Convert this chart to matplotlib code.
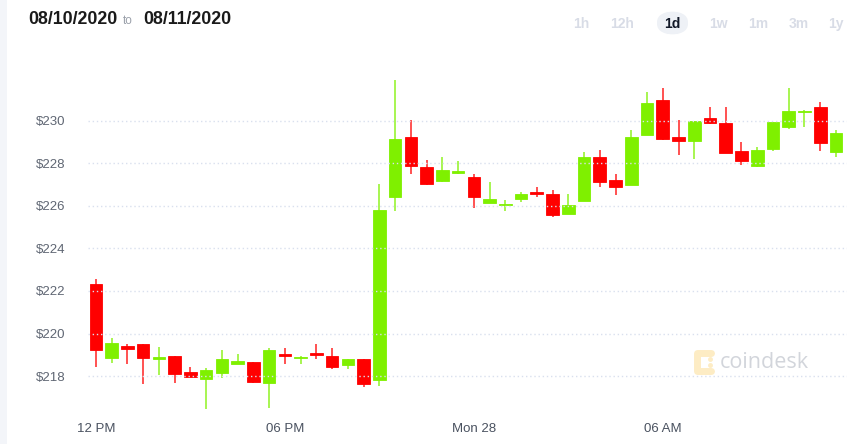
#!/usr/bin/env python3
# Свечной график в стиле coindesk, 30-минутные свечи за сутки
import numpy as np
import pandas as pd
import matplotlib
matplotlib.use("Agg")
import matplotlib.pyplot as plt
import matplotlib.dates as mdates
from matplotlib.patches import FancyBboxPatch, Rectangle

plt.rcParams["font.family"] = ["Liberation Sans", "DejaVu Sans"]

# --- данные ---
start_time = "2020-09-27 12:00"
opens = [222.35, 218.86, 219.41, 219.53, 218.81, 218.95, 218.19, 217.86, 218.16, 218.58,
         218.67, 217.67, 219.03, 218.86, 219.08, 218.95, 218.53, 218.78, 217.80, 226.42,
         229.23, 227.84, 227.16, 227.55, 227.34, 226.14, 226.05, 226.32, 226.64, 226.54,
         225.60, 226.24, 228.32, 227.21, 227.00, 229.34, 231.00, 229.25, 229.03, 230.11,
         229.92, 228.57, 227.90, 228.68, 229.70, 230.40, 230.63, 228.53]
closes = [219.22, 219.56, 219.25, 218.86, 218.92, 218.11, 217.94, 218.27, 218.80, 218.69,
          217.72, 219.22, 218.95, 218.89, 218.98, 218.44, 218.78, 217.64, 225.80, 229.14,
          227.88, 227.05, 227.67, 227.63, 226.41, 226.33, 226.11, 226.55, 226.56, 225.58,
          226.02, 228.29, 227.13, 226.87, 229.25, 230.82, 229.15, 229.06, 230.00, 229.88,
          228.47, 228.12, 228.61, 229.94, 230.44, 230.46, 228.95, 229.41]
highs = [222.55, 219.78, 219.53, 219.53, 219.37, 218.95, 218.44, 218.37, 219.22, 219.03,
         218.67, 219.33, 219.33, 218.94, 219.50, 219.31, 218.78, 218.78, 227.03, 231.92,
         230.03, 228.16, 228.28, 228.09, 227.51, 227.12, 226.30, 226.64, 226.87, 226.73,
         226.55, 228.53, 228.65, 227.48, 229.56, 231.35, 231.54, 230.02, 230.00, 230.63,
         230.63, 229.00, 228.75, 229.94, 231.54, 230.50, 230.88, 229.56]
lows = [218.41, 218.60, 218.58, 217.61, 218.05, 217.69, 217.94, 216.44, 217.92, 218.58,
        217.69, 216.51, 218.56, 218.56, 218.81, 218.33, 218.33, 217.47, 217.53, 225.76,
        227.51, 227.00, 227.13, 227.48, 225.88, 226.14, 225.78, 226.19, 226.42, 225.47,
        225.60, 226.24, 226.87, 226.50, 227.00, 229.34, 229.12, 228.40, 228.20, 229.83,
        228.47, 227.93, 227.81, 228.56, 229.62, 229.72, 228.57, 228.32]

y_ticks = [218, 220, 222, 224, 226, 228, 230]
x_tick_times = ["2020-09-27 12:00", "2020-09-27 18:00", "2020-09-28 00:00", "2020-09-28 06:00"]
x_tick_labels = ["12 PM", "06 PM", "Mon 28", "06 AM"]
ranges = ["1h", "12h", "1d", "1w", "1m", "3m", "1y"]
active_range = "1d"

UP = "#7ff000"
DOWN = "#ff0000"


def main():
    times = pd.date_range(start_time, periods=len(opens), freq="30min")
    t = mdates.date2num(times)
    o = np.array(opens)
    c = np.array(closes)
    h = np.array(highs)
    lo = np.array(lows)
    colors = [UP if cc >= oo else DOWN for oo, cc in zip(o, c)]

    fig = plt.figure(figsize=(8.67, 4.44), dpi=100)
    ax = fig.add_axes([88 / 867, 1 - 415 / 444, (847 - 88) / 867, (415 - 60) / 444])

    # фитили
    ax.vlines(t, lo, h, colors=colors, linewidth=1.2, alpha=0.8, zorder=2)
    # тела свечей
    width = 0.8 / 48
    bottoms = np.minimum(o, c)
    heights = np.maximum(np.abs(c - o), 0.06)
    ax.bar(t, heights, bottom=bottoms, width=width, color=colors,
           edgecolor=colors, linewidth=0.6, zorder=3)

    # пунктирная сетка поверх свечей
    for yv in y_ticks:
        ax.axhline(yv, color="#d9e0ee", linewidth=1.0, linestyle=(0, (1, 2)), zorder=4)

    ax.set_ylim(216.17, 232.86)
    ax.set_xlim(mdates.date2num(times[0] - pd.Timedelta(minutes=15)),
                mdates.date2num(times[-1] + pd.Timedelta(minutes=21)))

    ax.set_yticks(y_ticks)
    ax.set_yticklabels([f"${v}" for v in y_ticks], fontsize=9.5, color="#5f6673")
    ax.set_xticks(mdates.date2num(pd.to_datetime(x_tick_times)))
    ax.set_xticklabels(x_tick_labels, fontsize=9.5, color="#4a5260")
    ax.tick_params(axis="y", length=0, pad=16)
    ax.tick_params(axis="x", length=0, pad=6)
    for sp in ax.spines.values():
        sp.set_visible(False)

    # водяной знак
    fig.text(720 / 867, 1 - 362 / 444, "coindesk", fontsize=15.5, color="#d2d5db",
             family=["Open Sans", "DejaVu Sans"], va="center", ha="left")
    logo_x = [711 / 867, 697 / 867, 697 / 867, 711 / 867]
    logo_y = [1 - 353 / 444, 1 - 353 / 444, 1 - 371 / 444, 1 - 371 / 444]
    fig.add_artist(plt.Line2D(logo_x, logo_y, color="#fdecc4", linewidth=5,
                              solid_capstyle="round", solid_joinstyle="round"))
    for yy in (359, 365):
        fig.add_artist(plt.Line2D([710 / 867], [1 - yy / 444], marker="o", markersize=2.5,
                                  color="#fdecc4", linestyle="none"))

    # левая серая полоса
    fig.add_artist(Rectangle((0, 0), 7 / 867, 1, transform=fig.transFigure,
                             facecolor="#f3f5f9", edgecolor="none"))

    # заголовок с датами
    fig.text(28 / 867, 1 - 20 / 444, "08/10/2020", fontsize=12.8, fontweight="bold",
             color="#1a1a1a", va="center")
    fig.text(123 / 867, 1 - 21 / 444, "to", fontsize=8.5, color="#9aa0aa", va="center")
    fig.text(143 / 867, 1 - 20 / 444, "08/11/2020", fontsize=12.8, fontweight="bold",
             color="#1a1a1a", va="center")

    # переключатели периода
    centers = [581, 622, 672, 718, 758, 799, 836]
    for lab, cx in zip(ranges, centers):
        if lab == active_range:
            fig.add_artist(FancyBboxPatch((657 / 867, 1 - 35 / 444), 31 / 867, 24 / 444,
                                          boxstyle="round,pad=0,rounding_size=0.025",
                                          transform=fig.transFigure,
                                          facecolor="#eef1f6", edgecolor="none"))
            col = "#111827"
        else:
            col = "#d8dce6"
        fig.text(cx / 867, 1 - 24 / 444, lab, fontsize=10, fontweight="bold",
                 color=col, ha="center", va="center")

    fig.savefig("out.png", dpi=100)
    plt.close(fig)


if __name__ == "__main__":
    main()
